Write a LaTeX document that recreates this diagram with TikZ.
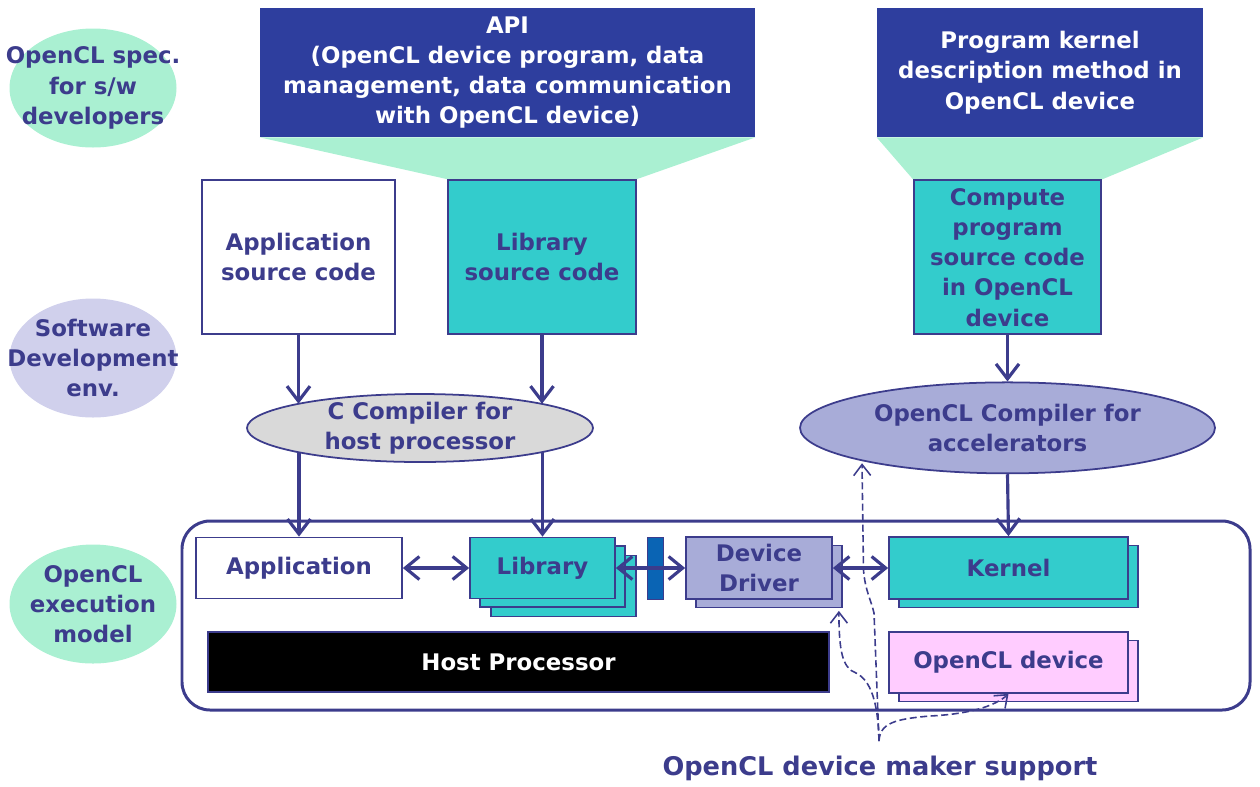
\documentclass[tikz,border=0pt]{standalone}
\usepackage{fontspec}
\setmainfont{DejaVu Sans}
\usepackage{xcolor}
\usepackage{tikz}
\usetikzlibrary{arrows.meta,shapes,shadows,calc,backgrounds}

\definecolor{textblue}{RGB}{60,60,140}
\definecolor{bannerblue}{RGB}{46,62,158}
\definecolor{mint}{RGB}{170,240,210}
\definecolor{teal}{RGB}{51,204,204}
\definecolor{lavender}{RGB}{168,172,216}
\definecolor{paleblue}{RGB}{208,208,236}
\definecolor{compgray}{RGB}{217,217,217}
\definecolor{pink}{RGB}{255,204,255}
\definecolor{barblue}{RGB}{10,100,180}

\tikzstyle{base}=[font=\bfseries\fontsize{13}{17.2}\selectfont, text=textblue,
  align=center]
\tikzstyle{side}=[base, ellipse, inner xsep=-1cm, inner ysep=0pt,
  minimum width=3.34cm, minimum height=2.38cm]
\tikzstyle{banner}=[base, fill=bannerblue, text=white, minimum height=2.58cm]
\tikzstyle{srcbox}=[base, draw=textblue, line width=1pt, fill=teal,
  minimum width=3.78cm, minimum height=3.08cm]
\tikzstyle{compiler}=[base, ellipse, draw=textblue, line width=1pt,
  inner xsep=-1cm, inner ysep=-0.3cm]
\tikzstyle{part}=[base, draw=textblue, line width=1pt, minimum height=1.22cm,
  inner sep=0pt]
\tikzstyle{stack2}=[copy shadow={shadow xshift=0.2cm, shadow yshift=-0.17cm}]
\tikzstyle{stack3}=[copy shadow={shadow xshift=0.42cm, shadow yshift=-0.36cm},
  copy shadow={shadow xshift=0.2cm, shadow yshift=-0.17cm}]
\tikzstyle{flow}=[draw=textblue, line width=1.8pt,
  -{Straight Barb[length=3mm, width=4.6mm]}]
\tikzstyle{link}=[draw=textblue, line width=1.8pt,
  {Straight Barb[length=2.8mm, width=4.6mm]}-{Straight Barb[length=2.8mm, width=4.6mm]}]
\tikzstyle{hint}=[draw=textblue, line width=0.9pt, dash pattern=on 4pt off 2pt,
  -{Straight Barb[length=2.2mm, width=3.4mm]}]

\begin{document}
\begin{tikzpicture}
  \useasboundingbox (0,0) rectangle (25.2,-15.72);

  % left column
  \node(spec)[side, fill=mint] at (1.86,-1.76) {OpenCL spec.\\for s/w\\developers};
  \path(spec)+(0,-5.4) node(devenv)[side, fill=paleblue]{Software\\Development\\env.};
  \path(devenv)+(0,-4.92) node(model)[side, fill=mint]{OpenCL\\execution\\model};

  % spec banners and sources
  \node(api)[banner, minimum width=9.9cm] at (10.15,-1.45)
    {API\\(OpenCL device program, data\\management, data communication\\with OpenCL device)};
  \path(api)+(10.65,0) node(kdesc)[banner, minimum width=6.52cm]
    {Program kernel\\description method in\\OpenCL device};

  \node(appsrc)[srcbox, fill=white, minimum width=3.86cm] at (5.97,-5.14)
    {Application\\source code};
  \path(appsrc)+(4.87,0) node(libsrc)[srcbox, minimum width=3.76cm]{Library\\source code};
  \path(kdesc.south)+(-0.65,-2.4) node(cpsrc)[srcbox, minimum width=3.74cm]
    {Compute\\program\\source code\\in OpenCL\\device};

  \begin{pgfonlayer}{background}
    \fill[mint] (api.south west) -- (api.south east) -- (libsrc.north east)
      -- (libsrc.north west) -- cycle;
    \fill[mint] (kdesc.south west) -- (kdesc.south east) -- (cpsrc.north east)
      -- (cpsrc.north west) -- cycle;
  \end{pgfonlayer}

  % compilers
  \node(ccomp)[compiler, fill=compgray, minimum width=6.92cm, minimum height=1.36cm]
    at (8.4,-8.56) {C Compiler for\\host processor};
  \path(cpsrc)+(0,-3.41) node(clcomp)[compiler, fill=lavender, minimum width=8.3cm,
    minimum height=1.82cm]{OpenCL Compiler for\\accelerators};

  % execution model
  \node(exec)[draw=textblue, line width=1.7pt, rounded corners=0.56cm,
    minimum width=21.36cm, minimum height=3.78cm] at (14.32,-12.31) {};
  \node(app)[part, fill=white, minimum width=4.12cm] at (5.98,-11.36) {Application};
  \node(lib)[part, fill=teal, minimum width=2.9cm, stack3] at (10.85,-11.36) {Library};
  \node(bar)[draw=textblue, fill=barblue, minimum width=0.32cm, minimum height=1.24cm,
    inner sep=0pt] at (13.1,-11.36) {};
  \node(driver)[part, fill=lavender, minimum width=2.92cm, minimum height=1.24cm,
    stack2] at (15.18,-11.36) {Device\\Driver};
  \node(kernel)[part, fill=teal, minimum width=4.78cm, minimum height=1.24cm, stack2]
    at (20.17,-11.36) {Kernel};
  \path(kernel)+(0,-1.89) node(cldev)[part, fill=pink, minimum width=4.78cm, stack2]
    {OpenCL device};
  \node(host)[part, fill=black, text=white, minimum width=12.42cm, minimum height=1.2cm]
    at (10.37,-13.24) {Host Processor};

  % build flow
  \draw[flow] (appsrc.south) -- (appsrc.south |- ccomp.169);
  \draw[flow] (libsrc.south) -- (libsrc.south |- ccomp.11);
  \draw[flow] (cpsrc.south) -- (clcomp.north);
  \draw[flow] (ccomp.191 -| app.north) -- (app.north);
  \draw[flow] (ccomp.349 -| lib.north) -- (lib.north);
  \draw[flow] (clcomp.south) -- (kernel.north);

  \draw[link] (app.east) -- (lib.west);
  \draw[link] (lib.east) -- (driver.west);
  \draw[link] (driver.east) -- (kernel.west);

  % device maker support
  \node(maker)[base, font=\bfseries\fontsize{14.6}{17}\selectfont] at (17.6,-15.36)
    {OpenCL device maker support};
  \coordinate(src) at (17.58,-14.82);
  \draw[hint] (src) -- (17.48,-12.26) .. controls (17.42,-12.0) and (17.30,-11.8)
    .. (17.27,-11.4) -- ($(clcomp.south)+(-2.91,0.22)$);
  \draw[hint] (src) .. controls (17.56,-14.0) and (17.4,-13.6) .. (17.12,-13.46)
    .. controls (16.84,-13.36) and (16.78,-13.0) .. ($(driver.south east)+(0.12,-0.22)$);
  \draw[hint] (src) .. controls (17.6,-14.46) and (17.9,-14.38) .. (18.6,-14.32)
    .. controls (19.4,-14.28) and (19.9,-14.12) .. (cldev.south);
\end{tikzpicture}
\end{document}
